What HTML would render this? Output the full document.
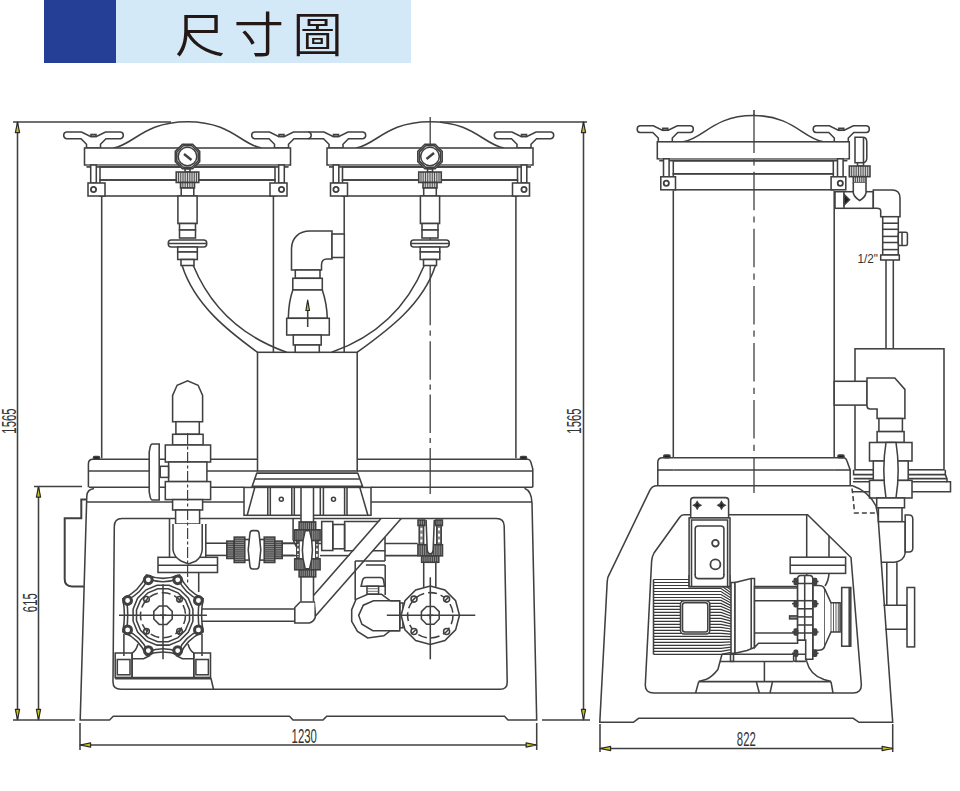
<!DOCTYPE html>
<html lang="zh-Hant"><head><meta charset="utf-8"><title>尺寸圖</title>
<style>
html,body{margin:0;padding:0;background:#fff}
body{width:960px;height:791px;overflow:hidden;position:relative;font-family:"Liberation Sans","Noto Sans CJK TC",sans-serif}
.hd{position:absolute;left:44px;top:0;width:367px;height:63px;background:#d3e9f8}
.hd i{position:absolute;left:0;top:0;width:72px;height:63px;background:#263f96;display:block}
.hd h1{position:absolute;left:130.5px;top:4px;margin:0;transform:scaleX(1.045);transform-origin:0 0;font-weight:350;font-size:48px;line-height:63px;letter-spacing:8.2px;color:#231815;white-space:nowrap}
svg{position:absolute;left:0;top:0}
svg path,svg rect,svg circle,svg ellipse{fill:none;stroke:#404040;stroke-width:1.55}
svg .w{fill:#fff}
svg .k{fill:#8c8c8c}
svg .kl{fill:#cfcfcf}
svg .t{stroke-width:.8;stroke:#333}
svg .b{stroke-width:1.8}
svg .bb{stroke-width:2.4}
svg .g{stroke:#555;stroke-width:.8}
svg .a{fill:#c9c212;stroke:#2a2a2a;stroke-width:1.2;stroke-linejoin:round}
svg .cl{stroke-dasharray:38.5 6.2 6.2 6.2;stroke-width:1.3}
svg .cl2{stroke-dasharray:11 2.5 3 2.5;stroke-width:1.2}
svg .ds{stroke-dasharray:5 3}
svg .f{fill:#1c1c1c}
svg text{font-family:"Liberation Sans",sans-serif;font-size:20.3px;fill:#333}
</style></head><body>
<div class="hd"><i></i><h1>尺寸圖</h1></div>
<svg width="960" height="791" viewBox="0 0 960 791">
<path d="M13 122L171 122"/>
<path d="M440 122L587 122"/>
<path d="M17.5 122L17.5 720"/>
<path d="M17.5 122L15.4 132.6L19.6 132.6Z" class="a"/>
<path d="M17.5 720L15.4 709.4L19.6 709.4Z" class="a"/>
<path d="M38.5 486.5L38.5 720"/>
<path d="M38.5 486.5L36.4 497.1L40.6 497.1Z" class="a"/>
<path d="M38.5 720L36.4 709.4L40.6 709.4Z" class="a"/>
<path d="M13 720L75 720"/>
<path d="M34 486.5L82 486.5"/>
<path d="M583.5 122L583.5 720"/>
<path d="M583.5 122L581.4 132.6L585.6 132.6Z" class="a"/>
<path d="M583.5 720L581.4 709.4L585.6 709.4Z" class="a"/>
<path d="M542 720L590 720"/>
<path d="M80 723L80 750"/>
<path d="M536.7 723L536.7 750"/>
<path d="M80 745L536.7 745"/>
<path d="M80 745L90.6 742.9L90.6 747.1Z" class="a"/>
<path d="M536.7 745L526.1 742.9L526.1 747.1Z" class="a"/>
<path d="M600 724L600 752"/>
<path d="M892.7 724L892.7 752"/>
<path d="M600 748.5L892.7 748.5"/>
<path d="M600 748.5L610.6 746.4L610.6 750.6Z" class="a"/>
<path d="M892.7 748.5L882.1 746.4L882.1 750.6Z" class="a"/>
<text text-anchor="middle" transform="translate(16.3 421) rotate(-90) scale(.56 1)">1565</text>
<text text-anchor="middle" transform="translate(580.5 421) rotate(-90) scale(.56 1)">1565</text>
<text text-anchor="middle" transform="translate(36.8 602.7) rotate(-90) scale(.56 1)">615</text>
<text text-anchor="middle" transform="translate(304.2 743.2) scale(.56 1)">1230</text>
<text text-anchor="middle" transform="translate(746.3 746.2) scale(.56 1)">822</text>
<path d="M344.2 196L344.2 458.3"/>
<path d="M515.9 196L515.9 458.3"/>
<path d="M356 148C376 145 386 121.7 430 121.7C474 121.7 484 145 504 148"/>
<path d="M309.1 132H324L333 136.5H339L348 132H362.9A3.4 3.4 0 0 1 362.9 138.7H348.5L343 144.2V148H329V144.2L323.5 138.7H309.1A3.4 3.4 0 0 1 309.1 132Z" class="w"/>
<rect x="333.5" y="134.5" width="5" height="2"/>
<path d="M497.1 132H512L521 136.5H527L536 132H550.9A3.4 3.4 0 0 1 550.9 138.7H536.5L531 144.2V148H517V144.2L511.5 138.7H497.1A3.4 3.4 0 0 1 497.1 132Z" class="w"/>
<rect x="521.5" y="134.5" width="5" height="2"/>
<rect x="327" y="148" width="206" height="17" class="w"/>
<rect x="329" y="164.3" width="202" height="2.7" style="fill:#888;stroke:none"/>
<path d="M329 167L531 167"/>
<rect x="342.5" y="167" width="175" height="13"/>
<rect x="342.5" y="180" width="175" height="16"/>
<rect x="333.2" y="165" width="5.6" height="18" class="w"/>
<rect x="330.5" y="183" width="17" height="13" class="w"/>
<circle cx="336" cy="189.5" r="2.6" class="b"/>
<rect x="521.2" y="165" width="5.6" height="18" class="w"/>
<rect x="512.5" y="183" width="17" height="13" class="w"/>
<circle cx="524" cy="189.5" r="2.6" class="b"/>
<path d="M101.7 196L101.7 458.3"/>
<path d="M273.4 196L273.4 458.3"/>
<path d="M113.5 148C133.5 145 143.5 121.7 187.5 121.7C231.5 121.7 241.5 145 261.5 148"/>
<path d="M66.5 132H81.5L90.5 136.5H96.5L105.5 132H120.5A3.4 3.4 0 0 1 120.5 138.7H106L100.5 144.2V148H86.5V144.2L81 138.7H66.5A3.4 3.4 0 0 1 66.5 132Z" class="w"/>
<rect x="91" y="134.5" width="5" height="2"/>
<path d="M254.5 132H269.5L278.5 136.5H284.5L293.5 132H308.4A3.4 3.4 0 0 1 308.4 138.7H294L288.5 144.2V148H274.5V144.2L269 138.7H254.5A3.4 3.4 0 0 1 254.5 132Z" class="w"/>
<rect x="279" y="134.5" width="5" height="2"/>
<rect x="84.5" y="148" width="206" height="17" class="w"/>
<rect x="86.5" y="164.3" width="202" height="2.7" style="fill:#888;stroke:none"/>
<path d="M86.5 167L288.5 167"/>
<rect x="100" y="167" width="175" height="13"/>
<rect x="100" y="180" width="175" height="16"/>
<rect x="90.7" y="165" width="5.6" height="18" class="w"/>
<rect x="88" y="183" width="17" height="13" class="w"/>
<circle cx="93.5" cy="189.5" r="2.6" class="b"/>
<rect x="278.7" y="165" width="5.6" height="18" class="w"/>
<rect x="270" y="183" width="17" height="13" class="w"/>
<circle cx="281.5" cy="189.5" r="2.6" class="b"/>
<path d="M430.2 117L430.2 325.2" style="stroke-width:1.3"/>
<path d="M430.2 330.4L430.2 335.8" style="stroke-width:1.3"/>
<path d="M430.2 341.3L430.2 447" class="cl" style="stroke-dasharray:38.5 4.8 5.2 4.8"/>
<path d="M430.2 447.9L430.2 494" style="stroke-width:1.3"/>
<path d="M199.7 161.6L192.6 168.7L182.4 168.7L175.3 161.6L175.3 151.4L182.4 144.3L192.6 144.3L199.7 151.4Z" class="w"/>
<path d="M198.2 160.9L191.9 167.2L183.1 167.2L176.8 160.9L176.8 152.1L183.1 145.8L191.9 145.8L198.2 152.1Z"/>
<circle cx="187.5" cy="156.5" r="9.3"/>
<path d="M184 154L191.5 160" class="bb"/>
<rect x="185" y="169" width="5" height="3" class="w"/>
<rect x="176.2" y="172" width="22.6" height="10.5" class="kl"/>
<path d="M178.5 172V182.5M180.7 172V182.5M183 172V182.5M185.2 172V182.5M187.5 172V182.5M189.8 172V182.5M192 172V182.5M194.3 172V182.5M196.5 172V182.5" class="t"/>
<rect x="180.5" y="182.5" width="14" height="5.5" class="kl"/>
<path d="M182.8 182.5V188M185.2 182.5V188M187.5 182.5V188M189.8 182.5V188M192.2 182.5V188" class="t"/>
<rect x="181.2" y="188" width="12.6" height="8" class="w"/>
<rect x="177.9" y="196" width="19.2" height="27.5" class="w"/>
<rect x="179.5" y="223.5" width="16" height="6.5" class="w"/>
<rect x="179.5" y="230" width="16" height="8" class="w"/>
<rect x="168.3" y="240" width="38.4" height="7" rx="3" class="w"/>
<path d="M168.5 243.5L206.5 243.5"/>
<rect x="177.7" y="247" width="19.6" height="5" class="w"/>
<rect x="177.7" y="252" width="19.6" height="7.5" class="w"/>
<rect x="181" y="259.5" width="13" height="6" class="w"/>
<path d="M442.2 161.6L435.1 168.7L424.9 168.7L417.8 161.6L417.8 151.4L424.9 144.3L435.1 144.3L442.2 151.4Z" class="w"/>
<path d="M440.7 160.9L434.4 167.2L425.6 167.2L419.3 160.9L419.3 152.1L425.6 145.8L434.4 145.8L440.7 152.1Z"/>
<circle cx="430" cy="156.5" r="9.3"/>
<path d="M426.5 159L434 153" class="bb"/>
<rect x="427.5" y="169" width="5" height="3" class="w"/>
<rect x="418.7" y="172" width="22.6" height="10.5" class="kl"/>
<path d="M421 172V182.5M423.2 172V182.5M425.5 172V182.5M427.7 172V182.5M430 172V182.5M432.3 172V182.5M434.5 172V182.5M436.8 172V182.5M439 172V182.5" class="t"/>
<rect x="423" y="182.5" width="14" height="5.5" class="kl"/>
<path d="M425.3 182.5V188M427.7 182.5V188M430 182.5V188M432.3 182.5V188M434.7 182.5V188" class="t"/>
<rect x="423.7" y="188" width="12.6" height="8" class="w"/>
<rect x="420.4" y="196" width="19.2" height="27.5" class="w"/>
<rect x="422" y="223.5" width="16" height="6.5" class="w"/>
<rect x="422" y="230" width="16" height="8" class="w"/>
<rect x="410.8" y="240" width="38.4" height="7" rx="3" class="w"/>
<path d="M411 243.5L449 243.5"/>
<rect x="420.2" y="247" width="19.6" height="5" class="w"/>
<rect x="420.2" y="252" width="19.6" height="7.5" class="w"/>
<rect x="423.5" y="259.5" width="13" height="6" class="w"/>
<path d="M182.1 265.5C194.7 305.4 229.2 331.7 257.5 352.3"/>
<path d="M193.3 265.5C211.5 309.7 244.4 337.4 286.7 352.3"/>
<path d="M435.4 265.5C422.8 305.4 385.6 331.7 357.2 352.3"/>
<path d="M424.2 265.5C406 309.7 374 337.4 331.7 352.3"/>
<rect x="257.5" y="352.3" width="99.7" height="118.7" class="w"/>
<path d="M291.5 270V249C291.5 238 299 231 310 231H332V259H327Q321.5 259 321.5 265V270Z" class="w"/>
<rect x="332" y="234" width="12.3" height="23.5" class="w"/>
<rect x="295.3" y="270" width="24.7" height="8.3" class="w"/>
<rect x="292.8" y="278.3" width="29.5" height="11.7" class="w"/>
<path d="M292.8 290C290 298 288.5 308 288.3 318.3H327.3C327 308 325 298 322.3 290Z" class="w"/>
<rect x="286.7" y="318.3" width="42.6" height="16.7" class="w"/>
<rect x="293.3" y="335" width="27.9" height="10" class="w"/>
<rect x="295.2" y="345" width="24.1" height="7.3" class="w"/>
<path d="M307.7 303L307.7 327"/>
<path d="M307.7 300L305.9 310.5L309.5 310.5Z" class="a"/>
<path d="M256.7 473.3L357.8 473.3"/>
<path d="M256.7 473.3L252.2 486.3L362.5 486.3L357.8 473.3Z" class="w"/>
<path d="M255 479L359.5 479"/>
<path d="M252.2 487.4L362.5 487.4"/>
<rect x="244" y="487.4" width="127" height="27.9" class="w"/>
<path d="M254.8 487.4L247.2 515.3"/>
<path d="M359.8 487.4L367.9 515.3"/>
<path d="M267.8 487.4L267.8 515.3"/>
<path d="M270.3 487.4L270.3 515.3"/>
<path d="M291.8 487.4L291.8 515.3"/>
<path d="M294.3 487.4L294.3 515.3"/>
<path d="M320.3 487.4L320.3 515.3"/>
<path d="M323.4 487.4L323.4 515.3"/>
<path d="M344.6 487.4L344.6 515.3"/>
<path d="M347 487.4L347 515.3"/>
<circle cx="281.3" cy="499.2" r="2"/>
<circle cx="333.5" cy="499.2" r="2"/>
<path d="M257.5 459.3H93Q88.4 459.3 88.4 464V487.2"/>
<path d="M357.2 459.3H528Q530 459.5 530.8 462L532.8 469V487.2"/>
<path d="M88.4 471L257.5 471"/>
<path d="M357.2 471L532.7 471"/>
<path d="M89 487.2L244 487.2"/>
<path d="M371 487.2L532.7 487.2"/>
<rect x="93.5" y="456.5" width="6" height="2.8" rx="1" class="f"/>
<rect x="520.5" y="456.5" width="6" height="2.8" rx="1" class="f"/>
<path d="M94 488.5Q87 489.5 86.8 496L80.2 720H109.5L113.3 716.2H289.5L293 720H323L326.7 716.2H504.5L508 720H536.7L532 503Q531.6 491 524.5 488.2"/>
<path d="M86.5 502L244 502"/>
<path d="M371 502L532 502"/>
<path d="M122 518.5H496.5Q504 518.5 504.2 526L507.2 682Q507.4 689.3 500 689.3H121Q113 689.3 113 682L114.3 526.5Q114.3 518.5 122 518.5Z"/>
<path d="M86 499.4H81.3V518.2H64.7V579Q64.7 586.4 72 586.4H84" style="stroke-width:2"/>
<path d="M172.6 421.7L172.6 395.5L177.1 385.3L187.6 380.8L198.1 385.3L202.6 395.5L202.6 421.7Z" class="w"/>
<rect x="175.9" y="421.7" width="23.4" height="12.6" class="w"/>
<rect x="172.6" y="434.3" width="30.5" height="10.7" class="w"/>
<rect x="165.3" y="445" width="45.3" height="17" class="w"/>
<rect x="168.6" y="462" width="38.3" height="19.6" class="w"/>
<rect x="165.3" y="481.6" width="45.3" height="18" class="w"/>
<rect x="172.6" y="499.6" width="30" height="10.4" class="w"/>
<rect x="175.6" y="510" width="24" height="14" class="w"/>
<path d="M159.2 444H152Q150.5 444.5 150.2 447L149.2 452V492L150.2 497Q150.5 499.5 152 500H159.2Z" class="w"/>
<rect x="160.2" y="466.3" width="8.3" height="11.1" class="w"/>
<path d="M169.5 519L169.5 557.3"/>
<path d="M205.8 524L205.8 557.3"/>
<rect x="158" y="557.3" width="59.5" height="15.2"/>
<path d="M158 565.3L217.5 565.3"/>
<path d="M173 524V550Q174 557 181 561L188.5 564L196 561Q201.5 557 202.2 550V524" class="w"/>
<path d="M187.6 433L187.6 583" class="cl2"/>
<path d="M198.7 572.5L198.7 592"/>
<path d="M205.8 543.2L227.7 543.2"/>
<path d="M205.8 555.4L227.7 555.4"/>
<path d="M281.7 543.2L294.4 543.2"/>
<path d="M281.7 555.4L294.4 555.4"/>
<rect x="226.8" y="541.1" width="7.4" height="17.4" class="k"/>
<path d="M226.8 543.3H234.2M226.8 545.4H234.2M226.8 547.6H234.2M226.8 549.8H234.2M226.8 552H234.2M226.8 554.1H234.2M226.8 556.3H234.2" class="t"/>
<rect x="234.2" y="537.1" width="10.6" height="25.4" class="k"/>
<path d="M234.2 539.2H244.8M234.2 541.3H244.8M234.2 543.4H244.8M234.2 545.6H244.8M234.2 547.7H244.8M234.2 549.8H244.8M234.2 551.9H244.8M234.2 554H244.8M234.2 556.1H244.8M234.2 558.3H244.8M234.2 560.4H244.8" class="t"/>
<rect x="264.2" y="537.1" width="10.6" height="25.4" class="k"/>
<path d="M264.2 539.2H274.8M264.2 541.3H274.8M264.2 543.4H274.8M264.2 545.6H274.8M264.2 547.7H274.8M264.2 549.8H274.8M264.2 551.9H274.8M264.2 554H274.8M264.2 556.1H274.8M264.2 558.3H274.8M264.2 560.4H274.8" class="t"/>
<rect x="274.8" y="541.1" width="7.4" height="17.4" class="k"/>
<path d="M274.8 543.3H282.2M274.8 545.4H282.2M274.8 547.6H282.2M274.8 549.8H282.2M274.8 552H282.2M274.8 554.1H282.2M274.8 556.3H282.2" class="t"/>
<rect x="244.8" y="539.5" width="4.7" height="20.6" class="w"/>
<rect x="259.5" y="539.5" width="4.7" height="20.6" class="w"/>
<path d="M248.2 549.8L249.9 533.8Q250.1 530.6 252.5 530.6L256.5 530.6Q258.9 530.6 259.1 533.8L260.8 549.8L259.1 565.8Q258.9 569 256.5 569L252.5 569Q250.1 569 249.9 565.8Z" class="w"/>
<path d="M293.1 518.5L293.1 540"/>
<path d="M293.1 540L296.5 547"/>
<rect x="299.1" y="521.9" width="16.6" height="7.9" class="k"/>
<path d="M301.2 521.9V529.8M303.2 521.9V529.8M305.3 521.9V529.8M307.4 521.9V529.8M309.5 521.9V529.8M311.5 521.9V529.8M313.6 521.9V529.8" class="t"/>
<rect x="294.7" y="529.8" width="25.4" height="10.8" class="k"/>
<path d="M296.8 529.8V540.6M298.9 529.8V540.6M301 529.8V540.6M303.2 529.8V540.6M305.3 529.8V540.6M307.4 529.8V540.6M309.5 529.8V540.6M311.6 529.8V540.6M313.8 529.8V540.6M315.9 529.8V540.6M318 529.8V540.6" class="t"/>
<rect x="296.8" y="540.6" width="2.2" height="18.2" class="k"/>
<path d="M297.9 542.9V556.9" style="stroke:#fff;stroke-width:1.8;stroke-dasharray:2.6 3"/>
<rect x="315.8" y="540.6" width="2.2" height="18.2" class="k"/>
<path d="M316.9 542.9V556.9" style="stroke:#fff;stroke-width:1.8;stroke-dasharray:2.6 3"/>
<rect x="294.7" y="558.8" width="25.4" height="11" class="k"/>
<path d="M296.8 558.8V569.8M298.9 558.8V569.8M301 558.8V569.8M303.2 558.8V569.8M305.3 558.8V569.8M307.4 558.8V569.8M309.5 558.8V569.8M311.6 558.8V569.8M313.8 558.8V569.8M315.9 558.8V569.8M318 558.8V569.8" class="t"/>
<rect x="299.1" y="569.8" width="16.6" height="7.1" class="k"/>
<path d="M301.2 569.8V576.9M303.2 569.8V576.9M305.3 569.8V576.9M307.4 569.8V576.9M309.5 569.8V576.9M311.5 569.8V576.9M313.6 569.8V576.9" class="t"/>
<path d="M305.2 530.6Q299.6 549.7 305.2 568.8L309.6 568.8Q315.2 549.7 309.6 530.6Z" class="w"/>
<path d="M281.5 543.5L298.9 543.5"/>
<path d="M281.5 555.6L298.9 555.6"/>
<rect x="301" y="487.4" width="12.5" height="34.5" class="w"/>
<path d="M301 576.9L301 601.4"/>
<path d="M313.5 576.9L313.5 601.4"/>
<path d="M300.2 602H315.2V617.6Q313.5 622 309.3 623H294.8V607.5Z" class="w"/>
<path d="M200.5 608.9L294 608.9"/>
<path d="M200.5 621.3L294 621.3"/>
<rect x="321.7" y="521.5" width="11.1" height="29"/>
<rect x="332.8" y="524.5" width="11.8" height="24.3"/>
<path d="M381 521.5L344.6 521.5L344.6 550.8L385 550.8L385 536"/>
<path d="M315.5 543.5L321.7 543.5"/>
<path d="M320 555.6L350 555.6"/>
<path d="M381.5 519L400.5 519L316.3 615L314.5 596Z" class="w" style="stroke:none"/>
<path d="M401.2 518.5L315.3 616.3"/>
<path d="M381 518.5L313.5 595.5"/>
<rect x="418" y="520" width="6.8" height="5.5" class="k"/>
<path d="M420.3 520V525.5M422.5 520V525.5" class="t"/>
<rect x="419.2" y="525.5" width="4.4" height="19.2" class="k"/>
<path d="M421.4 528V544" style="stroke:#fff;stroke-width:2;stroke-dasharray:2.6 3.2"/>
<rect x="435.6" y="520" width="6.8" height="5.5" class="k"/>
<path d="M437.9 520V525.5M440.1 520V525.5" class="t"/>
<rect x="436.8" y="525.5" width="4.4" height="19.2" class="k"/>
<path d="M439 528V544" style="stroke:#fff;stroke-width:2;stroke-dasharray:2.6 3.2"/>
<rect x="417.9" y="544.7" width="24.6" height="11.2" class="k"/>
<path d="M420.1 544.7V555.9M422.4 544.7V555.9M424.6 544.7V555.9M426.8 544.7V555.9M429.1 544.7V555.9M431.3 544.7V555.9M433.6 544.7V555.9M435.8 544.7V555.9M438 544.7V555.9M440.3 544.7V555.9" class="t"/>
<rect x="421.6" y="555.9" width="17.2" height="6.4" class="k"/>
<path d="M423.8 555.9V562.3M425.9 555.9V562.3M428 555.9V562.3M430.2 555.9V562.3M432.4 555.9V562.3M434.5 555.9V562.3M436.6 555.9V562.3" class="t"/>
<path d="M426.1 520L427.2 549Q427.4 553.8 430.2 553.8Q433 553.8 433.2 549L434.3 520" class="w"/>
<path d="M385 543.5L417.7 543.5"/>
<path d="M385 555.6L417.7 555.6"/>
<path d="M423.7 562.3L423.7 588"/>
<path d="M435.8 562.3L435.8 588"/>
<path d="M385 550.8L385 561"/>
<path d="M365.9 561L385 561"/>
<path d="M365.9 565L385 565"/>
<path d="M355.2 561L355.2 600"/>
<path d="M355.2 561L365.9 561"/>
<path d="M203.2 631.8Q186.7 638.9 179.6 655.4Q163 648.7 146.4 655.4Q139.3 638.9 122.8 631.8Q126 615.2 122.8 598.6Q139.3 591.5 146.4 575Q163 581.7 179.6 575Q186.7 591.5 203.2 598.6Q200 615.2 203.2 631.8Z" class="w"/>
<path d="M199.5 630.3Q184.6 636.8 178.1 651.7Q163 645.7 147.9 651.7Q141.4 636.8 126.5 630.3Q129 615.2 126.5 600.1Q141.4 593.6 147.9 578.7Q163 584.7 178.1 578.7Q184.6 593.6 199.5 600.1Q197 615.2 199.5 630.3Z"/>
<path d="M192.9 621.2L188.4 632.1L179.9 640.6L169 645.1L157 645.1L146.1 640.6L137.6 632.1L133.1 621.2L133.1 609.2L137.6 598.3L146.1 589.8L157 585.3L169 585.3L179.9 589.8L188.4 598.3L192.9 609.2Z"/>
<path d="M189.5 620.5L185.4 630.2L178 637.6L168.3 641.7L157.7 641.7L148 637.6L140.6 630.2L136.5 620.5L136.5 609.9L140.6 600.2L148 592.8L157.7 588.7L168.3 588.7L178 592.8L185.4 600.2L189.5 609.9Z"/>
<circle cx="163" cy="615.2" r="22.5" style="stroke-dasharray:9 4"/>
<path d="M172.2 619L166.8 624.4L159.2 624.4L153.8 619L153.8 611.4L159.2 606L166.8 606L172.2 611.4Z"/>
<path d="M160 615.2L166 615.2"/>
<path d="M163 615.2L163 619.2"/>
<circle cx="146.5" cy="599.2" r="2.8"/>
<path d="M145.5 602.7L148 597.2"/>
<circle cx="146.5" cy="631.2" r="2.8"/>
<path d="M145.5 634.7L148 629.2"/>
<circle cx="179.5" cy="599.2" r="2.8"/>
<path d="M178.5 602.7L181 597.2"/>
<circle cx="179.5" cy="631.2" r="2.8"/>
<path d="M178.5 634.7L181 629.2"/>
<circle cx="198.4" cy="629.9" r="3.9" class="w" style="stroke-width:3"/>
<circle cx="177.7" cy="650.6" r="3.9" class="w" style="stroke-width:3"/>
<circle cx="148.3" cy="650.6" r="3.9" class="w" style="stroke-width:3"/>
<circle cx="127.6" cy="629.9" r="3.9" class="w" style="stroke-width:3"/>
<circle cx="127.6" cy="600.5" r="3.9" class="w" style="stroke-width:3"/>
<circle cx="148.3" cy="579.8" r="3.9" class="w" style="stroke-width:3"/>
<circle cx="177.7" cy="579.8" r="3.9" class="w" style="stroke-width:3"/>
<circle cx="198.4" cy="600.5" r="3.9" class="w" style="stroke-width:3"/>
<path d="M119 615.2L207 615.2"/>
<path d="M163 584.2L163 659.2"/>
<rect x="115.2" y="653" width="16.9" height="24.6"/>
<rect x="117.3" y="659.5" width="12.7" height="15.3"/>
<rect x="193.8" y="653" width="16.7" height="24.6"/>
<rect x="195.9" y="659.5" width="12.5" height="15.3"/>
<path d="M115.2 677.6L210.5 677.6"/>
<path d="M115.2 678.6L211 678.6L213.5 689.3"/>
<path d="M132.1 658.7L143.6 658.7L150 655.5"/>
<path d="M193.8 658.7L182.4 658.7L176 655.5"/>
<path d="M132.1 653Q136 651 138 644"/>
<path d="M193.8 653Q190 651 188 644"/>
<path d="M123.9 634L123.9 656"/>
<path d="M202 634L202 656"/>
<path d="M132.1 677.6L132.1 653"/>
<path d="M193.8 677.6L193.8 653"/>
<path d="M385.2 565L385.2 595"/>
<path d="M356 599.4L367.7 594.3L381.6 594.3L390.3 600.8L399.8 600.8L399.8 630.7L390.3 630.7L383.8 635.8L367.7 638L357.5 631.5L351.7 621.3L351.7 609.6Z" class="w"/>
<path d="M399.8 600.8L373.5 600.8L363.3 605.2L358.7 615.4L361.9 624.2L372.8 630.7L399.8 630.7"/>
<rect x="399.8" y="603" width="3.2" height="24.8"/>
<path d="M361.1 586.2L362.6 580Q363.3 577.5 366 577.5H380.5Q383 577.5 383.5 580L384.5 586.2Z" class="w"/>
<rect x="367" y="586.2" width="11.6" height="7.8" class="w"/>
<path d="M367 588.7L378.6 588.7" class="g"/>
<path d="M367 591.3L378.6 591.3" class="g"/>
<path d="M459.5 615.3L455.6 629.9L444.9 640.6L430.3 644.5L415.7 640.6L405 629.9L401.1 615.3L405 600.7L415.7 590L430.3 586.1L444.9 590L455.6 600.7Z" class="w"/>
<circle cx="430.3" cy="615.3" r="22.7" style="stroke-dasharray:9 4"/>
<path d="M439.2 619L434 624.2L426.6 624.2L421.4 619L421.4 611.6L426.6 606.4L434 606.4L439.2 611.6Z"/>
<path d="M427.3 615.3L433.3 615.3"/>
<path d="M430.3 615.3L430.3 619.3"/>
<circle cx="414" cy="599.1" r="3" class="w"/>
<path d="M412.2 600.9L415.8 597.3"/>
<circle cx="414" cy="631.5" r="3" class="w"/>
<path d="M412.2 633.3L415.8 629.7"/>
<circle cx="446.6" cy="599.1" r="3" class="w"/>
<path d="M444.8 600.9L448.4 597.3"/>
<circle cx="446.6" cy="631.5" r="3" class="w"/>
<path d="M444.8 633.3L448.4 629.7"/>
<path d="M386.8 615.3L475.3 615.3"/>
<path d="M430.3 577.3L430.3 659.3"/>
<path d="M673.3 190.7L673.3 457.8"/>
<path d="M834.2 190.7L834.2 457.8"/>
<path d="M683.3 141.8C703.3 138.8 713.3 115.5 753.3 115.5C793.3 115.5 803.3 138.8 823.3 141.8"/>
<path d="M640 125.8H653.3L662.3 130.3H668.3L677.3 125.8H690.5A3.4 3.4 0 0 1 690.5 132.5H677.8L672.3 138V141.8H658.3V138L652.8 132.5H640A3.4 3.4 0 0 1 640 125.8Z" class="w"/>
<rect x="662.8" y="128.3" width="5" height="2"/>
<path d="M816 125.8H829.3L838.3 130.3H844.3L853.3 125.8H866.5A3.4 3.4 0 0 1 866.5 132.5H853.8L848.3 138V141.8H834.3V138L828.8 132.5H816A3.4 3.4 0 0 1 816 125.8Z" class="w"/>
<rect x="838.8" y="128.3" width="5" height="2"/>
<rect x="657.3" y="141.8" width="192" height="17" class="w"/>
<rect x="659.3" y="158.1" width="188" height="2.7" style="fill:#888;stroke:none"/>
<path d="M659.3 160.8L847.3 160.8"/>
<rect x="673.3" y="160.8" width="160" height="13"/>
<rect x="673.3" y="173.8" width="160" height="16"/>
<rect x="663.5" y="158.8" width="5.6" height="18" class="w"/>
<rect x="660.8" y="176.8" width="14.7" height="13" class="w"/>
<circle cx="666.3" cy="183.3" r="2.6" class="b"/>
<rect x="837.5" y="158.8" width="5.6" height="18" class="w"/>
<rect x="831.1" y="176.8" width="14.7" height="13" class="w"/>
<circle cx="840.3" cy="183.3" r="2.6" class="b"/>
<path d="M754 110L754 115"/>
<path d="M754 114.6L754 493" class="cl"/>
<path d="M855 137.3H862.5Q866.8 137.3 866.8 142V158Q866.8 162.7 862.5 162.7H855Z" class="w"/>
<path d="M863.5 138L863.5 162"/>
<rect x="857.5" y="162.7" width="6" height="3.3" class="w"/>
<rect x="849.3" y="166" width="20.7" height="10.7" class="kl"/>
<path d="M851.6 166V176.7M853.9 166V176.7M856.2 166V176.7M858.5 166V176.7M860.8 166V176.7M863.1 166V176.7M865.4 166V176.7M867.7 166V176.7" class="t"/>
<rect x="853.3" y="176.7" width="12.7" height="6" class="kl"/>
<path d="M855.4 176.7V182.7M857.5 176.7V182.7M859.6 176.7V182.7M861.8 176.7V182.7M863.9 176.7V182.7" class="t"/>
<rect x="835" y="191.7" width="38.3" height="16.6" class="w"/>
<path d="M844 191.7L844 208.3"/>
<path d="M853.3 182.7V193Q854.5 197.5 859.7 200.5Q865 197.5 866 193V182.7" class="w"/>
<path d="M844.2 194.5L849.5 199.8L844.2 205Z" class="f"/>
<path d="M873.3 190H892Q900 190 900 198V216.7H880.7V211Q880.7 208.3 877 208.3H873.3Z" class="w"/>
<rect x="882.7" y="216.7" width="15.6" height="38.3" class="w"/>
<path d="M882.7 223.2L898.3 223.2"/>
<path d="M882.7 229.3L898.3 229.3"/>
<path d="M882.7 236.4L898.3 236.4"/>
<path d="M882.7 242.5L898.3 242.5"/>
<path d="M882.7 249.6L898.3 249.6"/>
<rect x="898.3" y="232.3" width="9.1" height="13.2" rx="1.5" class="w"/>
<path d="M902 232.3L902 245.5"/>
<rect x="880.7" y="255" width="18.6" height="5" class="w"/>
<path d="M886 260L886 348.5"/>
<path d="M893.3 260L893.3 348.5"/>
<text transform="translate(857.5 262.8) scale(.9 1)" style="font-size:13px">1/2"</text>
<rect x="855" y="348.8" width="89" height="121" class="w"/>
<path d="M853.6 469.8L853.6 474.6L945.3 474.6L945.3 469.8"/>
<path d="M853.6 478.6L947 478.6"/>
<path d="M945.3 474.6L947 478.6L947 481.7L950.5 481.7L950.5 491.8L853 491.8"/>
<path d="M853 481.7L947 481.7"/>
<rect x="834.2" y="381.3" width="32.8" height="23.8" class="w"/>
<path d="M867 378H894.8L904.9 389.4V418.5H877.1V408.9H870Q867 408.9 867 406Z" class="w"/>
<rect x="878.9" y="418.5" width="23.5" height="13.1" class="w"/>
<rect x="877.1" y="431.6" width="27" height="10.9" class="w"/>
<rect x="869.5" y="442.5" width="42.5" height="18.5" class="w"/>
<rect x="873.3" y="461" width="34.9" height="19.4" class="w"/>
<rect x="869.5" y="480.4" width="42.5" height="17.6" class="w"/>
<path d="M886 442.5Q881.6 470.2 886 498L896 498Q900.4 470.2 896 442.5Z" class="w"/>
<rect x="876.7" y="498" width="27.8" height="9.8" class="w"/>
<rect x="878.4" y="507.8" width="23.6" height="13.9" class="w"/>
<path d="M878.4 521.7H905.2V553Q904 561 894.5 562.2H881.3" class="w"/>
<path d="M905.2 514.9H909Q912.8 514.9 912.8 519V548Q912.8 552 909 552H905.2Z" class="w"/>
<path d="M886.8 562.2L886.8 605.2"/>
<path d="M896.9 562.2L896.9 605.2"/>
<path d="M883.5 605.2L907 605.2L907 629.2L885.3 629.2"/>
<rect x="907" y="587.5" width="7.6" height="59.4" class="w"/>
<path d="M834.2 457.8H843.5Q846 458 846.8 460.5L850.2 470V485.5"/>
<path d="M673.3 457.8H662.5Q657.8 457.8 657.8 462.5V485.5"/>
<path d="M657.8 470L673.3 470"/>
<path d="M834.2 470L850.2 470"/>
<path d="M673.3 457.8L834.2 457.8"/>
<path d="M673.3 470L834.2 470"/>
<rect x="663.8" y="455" width="6.2" height="2.8" rx="1" class="f"/>
<rect x="838" y="455" width="6" height="2.8" rx="1" class="f"/>
<path d="M853.2 486Q868 491 876 506L878 516L892.7 722.3H859L853.2 718.3H638.6L633.4 722.3H599.8L607.2 581.6Q607.5 577 609.2 574.5L649.7 490.6Q652 485.7 657 485.7H853.2"/>
<path d="M852 488.5Q853.5 500 854.5 513H875.6" class="ds"/>
<path d="M684 514.8H807.6L851 557.5L861.3 684Q861.8 693 853 693H654Q645.2 693 645.3 685L651.6 561.4Q651.8 557 654 553L679.5 517.5Q681.3 514.8 684 514.8Z"/>
<path d="M806.7 514.8L806.7 557.2"/>
<path d="M829 536L829 557.2"/>
<path d="M690.7 517.9V500.6Q690.7 497.6 693.7 497.6H725.6Q728.6 497.6 728.6 500.6V517.9Z" class="w"/>
<path d="M697.2 501.8L698.5 504L700.7 505.3L698.5 506.6L697.2 508.8L695.9 506.6L693.7 505.3L695.9 504Z" class="f"/>
<path d="M721.5 501.8L722.8 504L725 505.3L722.8 506.6L721.5 508.8L720.2 506.6L718 505.3L720.2 504Z" class="f"/>
<rect x="689.1" y="517.9" width="40.9" height="68.7" class="w"/>
<path d="M691.5 586.6L691.5 520L727.6 520L727.6 586.6"/>
<rect x="695.2" y="526" width="28.7" height="52.6" rx="3"/>
<circle cx="715.4" cy="543.2" r="3.3" class="b"/>
<circle cx="715.4" cy="564.4" r="5" class="b"/>
<path d="M653.5 579.5H721L731 587.5M653.5 582.5H721L731 590.1M653.5 585.5H721L731 592.7M653.5 588.5H721L731 595.3M653.5 591.5H721L731 597.9M653.5 594.5H721L731 600.5M653.5 597.5H721L731 603.1M653.5 600.4H721L731 605.6M653.5 603.4H721L731 608.2M653.5 606.4H721L731 610.8M653.5 609.4H721L731 613.4M653.5 612.4H721L731 616M653.5 615.4H721L731 618.6M653.5 618.4H721L731 621.2M653.5 621.4H721L731 623.8M653.5 624.4H721L731 626.4M653.5 627.4H721L731 629M653.5 630.4H721L731 631.6M653.5 633.4H721L731 634.2M653.5 636.3H721L731 636.7M653.5 639.3H721L731 639.3M653.5 642.3H721L731 641.9M653.5 645.3H721L731 644.5M653.5 648.3H721L731 647.1M653.5 651.3H721L731 649.7M653.5 654.3H721L731 652.3" style="stroke-width:1.2;stroke:#383838"/>
<path d="M653.5 579.5L653.5 654.3"/>
<rect x="680.5" y="600.7" width="29.3" height="33.3" rx="3.5" class="w"/>
<rect x="682.5" y="602.7" width="25.3" height="29.3" rx="2.5"/>
<rect x="689.1" y="575" width="40.9" height="11.6" class="w" style="stroke:none"/>
<path d="M689.1 575L689.1 586.6L730 586.6L730 575"/>
<path d="M691.5 575L691.5 586.6"/>
<path d="M727.6 575L727.6 586.6"/>
<path d="M695.2 574V575.6Q695.2 578.6 698.2 578.6H720.9Q723.9 578.6 723.9 575.6V574"/>
<rect x="731" y="582.5" width="4" height="70.8" class="w"/>
<path d="M735 582.5L751.2 578.4H754.5V647.5L747 650.5L735 653.3Z" class="w"/>
<path d="M751.2 578.4L751.2 649"/>
<path d="M754.5 586.5H797.6V643.2H758.5L754.5 647.5Z" class="w"/>
<path d="M754.5 588L797.6 588"/>
<path d="M754.5 600.7L797.6 600.7"/>
<path d="M754.5 633L797.6 633"/>
<rect x="789.6" y="615.9" width="8" height="3" class="k"/>
<path d="M722 654.3L793.6 654.3"/>
<path d="M720 661.4L793.6 661.4"/>
<rect x="730.5" y="654.3" width="3" height="7.1"/>
<rect x="793.6" y="654.3" width="13.1" height="7.1" rx="2" class="w"/>
<path d="M796 654.3L796 661.4"/>
<path d="M722 654.3L717.9 669.4Q712 677 705.7 679.6L698.7 681.6"/>
<path d="M806.7 661.4Q810 675 824 679.6L831 681.6"/>
<path d="M698.7 681.6L831 681.6"/>
<path d="M698.7 681.6L695.6 693"/>
<path d="M756.3 681.6L759.3 693"/>
<path d="M772.5 681.6L770 693"/>
<path d="M831 681.6L833 693"/>
<path d="M764.4 661.4L764.4 681.6"/>
<path d="M812.8 585.5H819Q825 585.5 825 591.5V644Q825 650.2 819 650.2H812.8Z" class="w"/>
<path d="M825 589.6L831 602.7L840.1 602.7L840.1 632L831 632L825 645.2" class="w"/>
<path d="M831 602.7L831 632" class="t"/>
<path d="M833.5 602.7L833.5 632" class="t"/>
<path d="M836 602.7L836 632" class="t"/>
<path d="M838.3 602.7L838.3 632" class="t"/>
<rect x="841.7" y="587.5" width="9.1" height="58.7" class="w"/>
<path d="M849.2 587.5L849.2 646.2"/>
<path d="M806.7 573.4V586M829 573.4Q828.5 581 825 586"/>
<rect x="790.2" y="557.2" width="55.4" height="16.2" class="w"/>
<path d="M790.2 565.3L845.6 565.3"/>
<path d="M797.6 640.1V579Q797.6 575.4 801 575.4H809.5Q812.8 575.4 812.8 579V659.3H805.7V640.1Z" class="w"/>
<path d="M804.7 575.4L804.7 640.1"/>
<path d="M797.6 583.5L812.8 583.5"/>
<path d="M797.6 600.7L812.8 600.7"/>
<path d="M797.6 608.8L812.8 608.8"/>
<path d="M797.6 616.9L812.8 616.9"/>
<path d="M797.6 625L812.8 625"/>
<path d="M797.6 633L812.8 633"/>
<rect x="794.2" y="578.5" width="3.4" height="6" rx="1" style="fill:#444"/>
<rect x="812.8" y="578.5" width="3.8" height="6" rx="1" style="fill:#444"/>
<path d="M792 581.5L794.2 581.5"/>
<path d="M816.6 581.5L818.6 581.5"/>
<rect x="794.2" y="600.7" width="3.4" height="6" rx="1" style="fill:#444"/>
<rect x="812.8" y="600.7" width="3.8" height="6" rx="1" style="fill:#444"/>
<path d="M792 603.7L794.2 603.7"/>
<path d="M816.6 603.7L818.6 603.7"/>
<rect x="794.2" y="629" width="3.4" height="6" rx="1" style="fill:#444"/>
<rect x="812.8" y="629" width="3.8" height="6" rx="1" style="fill:#444"/>
<path d="M792 632L794.2 632"/>
<path d="M816.6 632L818.6 632"/>
<rect x="794.2" y="650.3" width="3.4" height="6" rx="1" style="fill:#444"/>
<rect x="812.8" y="650.3" width="3.8" height="6" rx="1" style="fill:#444"/>
<path d="M792 653.3L794.2 653.3"/>
<path d="M816.6 653.3L818.6 653.3"/>
</svg>
</body></html>
